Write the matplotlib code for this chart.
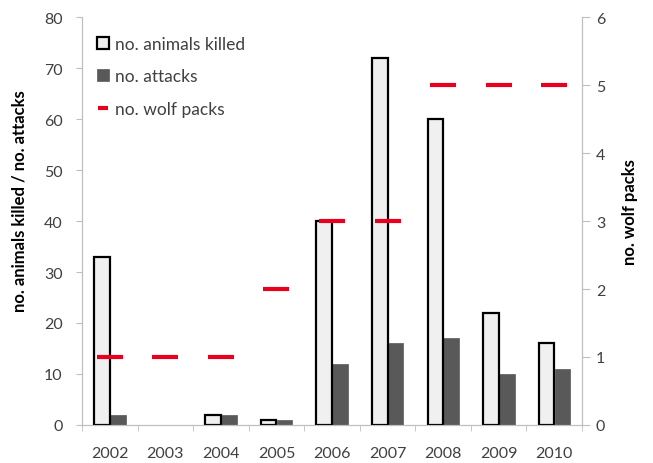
import numpy as np
import matplotlib.pyplot as plt
from matplotlib.ticker import FixedLocator

plt.rcParams['font.family'] = ['Lato', 'DejaVu Sans']

# ---- data ----
years = ["2002", "2003", "2004", "2005", "2006", "2007", "2008", "2009", "2010"]
animals_killed = [33, 0, 2, 1, 40, 72, 60, 22, 16]
attacks = [2, 0, 2, 1, 12, 16, 17, 10, 11]
wolf_packs = [1, 1, 1, 2, 3, 3, 5, 5, 5]

AXIS_GREY = "#bfbfbf"
TEXT_GREY = "#404040"

fig = plt.figure(figsize=(6.53, 4.64), dpi=100)
ax = fig.add_axes([0.1256, 0.082, 0.7657, 0.879])
ax2 = ax.twinx()

x = np.arange(len(years))
w = 0.28
# zero-height bars get no outline (nothing drawn in the original)
edges = ["black" if v > 0 else "none" for v in animals_killed]
ax.bar(x - 0.14, animals_killed, width=w, color="#f0f0f0", edgecolor=edges,
       linewidth=1.6, label="no. animals killed", zorder=3)
ax.bar(x + 0.145, attacks, width=w, color="#595959", edgecolor="#595959",
       linewidth=0.5, label="no. attacks", zorder=2)
ax2.plot(x, wolf_packs, linestyle="none", marker="_", markersize=19,
         markeredgewidth=3, color="#e8001c", label="no. wolf packs")

ax.set_xlim(-0.5, len(years) - 0.5)
ax.set_ylim(0, 80)
ax2.set_ylim(0, 6)
ax.set_yticks(np.arange(0, 81, 10))
ax2.set_yticks(np.arange(0, 7, 1))

ax.set_xticks(x)
ax.set_xticklabels(years)
ax.xaxis.set_minor_locator(FixedLocator(np.arange(-0.5, len(years), 1.0)))
ax.tick_params(axis="x", which="major", length=0, pad=15, labelsize=11.5, labelcolor=TEXT_GREY)
ax.tick_params(axis="x", which="minor", length=4, color=AXIS_GREY, direction="out")
ax.tick_params(axis="y", length=4, color=AXIS_GREY, labelsize=11.5, labelcolor=TEXT_GREY, pad=10)
ax2.tick_params(axis="y", length=6, color=AXIS_GREY, labelsize=11.5, labelcolor=TEXT_GREY, pad=4)

for a in (ax, ax2):
    a.spines["top"].set_visible(False)
    for s in ("left", "right", "bottom"):
        a.spines[s].set_color(AXIS_GREY)

ax.set_ylabel("no. animals killed / no. attacks", fontsize=12, fontweight="bold", color="black")
ax.yaxis.set_label_coords(-0.11, 0.551)
ax2.set_ylabel("no. wolf packs", fontsize=12, fontweight="bold", color="black")
ax2.yaxis.set_label_coords(1.08, 0.525)

h1, l1 = ax.get_legend_handles_labels()
h2, l2 = ax2.get_legend_handles_labels()
leg = ax2.legend(h1 + h2, l1 + l2, loc="upper left", bbox_to_anchor=(-0.002, 0.992),
                 frameon=False, fontsize=12.5, handlelength=0.7, handleheight=0.7,
                 handletextpad=0.35, labelspacing=0.95, markerscale=0.35)
for t in leg.get_texts():
    t.set_color(TEXT_GREY)

fig.savefig("out.png", dpi=100)
